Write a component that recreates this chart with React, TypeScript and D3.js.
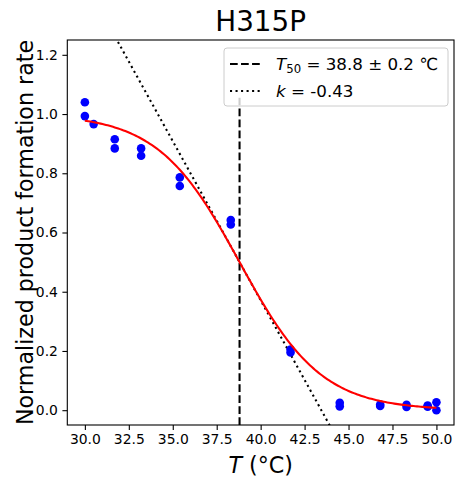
import { useEffect, useRef } from "react";
import * as d3 from "d3";

// measured temperatures (°C) and normalized rates, two replicates per well
const temps = [30.0, 30.0, 30.5, 31.7, 31.7, 33.2, 33.2, 35.4, 35.4, 38.3, 38.3, 41.7, 41.7, 44.5, 44.5, 46.8, 46.8, 48.3, 48.3, 49.5, 49.5, 50.0, 50.0];
const rates = [1.04, 0.993, 0.966, 0.915, 0.884, 0.884, 0.859, 0.786, 0.757, 0.642, 0.627, 0.205, 0.195, 0.025, 0.013, 0.019, 0.014, 0.018, 0.011, 0.016, 0.012, 0.027, 0.0];

// fitted logistic parameters
const T50 = 38.8;
const T50_ERR = 0.2;
const K = -0.43;

const xTicks = [30, 32.5, 35, 37.5, 40, 42.5, 45, 47.5, 50];
const yTicks = [0, 0.2, 0.4, 0.6, 0.8, 1.0, 1.2];

const W = 464;
const H = 487;
const FONT = "DejaVu Sans, sans-serif";

export default function App() {
  const svgRef = useRef<SVGSVGElement | null>(null);

  useEffect(() => {
    const svg = d3.select(svgRef.current);
    svg.selectAll("*").remove();

    const left = 67.3, right = 454, top = 40, bottom = 425;
    const x = d3.scaleLinear().domain([29, 51]).range([left, right]);
    const y = d3.scaleLinear().domain([-0.05, 1.25]).range([bottom, top]);

    svg.append("rect").attr("width", W).attr("height", H).attr("fill", "white");

    svg.append("defs").append("clipPath").attr("id", "plot")
      .append("rect").attr("x", left).attr("y", top)
      .attr("width", right - left).attr("height", bottom - top);

    const plot = svg.append("g").attr("clip-path", "url(#plot)");

    // tangent line at the midpoint, slope k/4
    const tangent = (t: number) => 0.5 + (K / 4) * (t - T50);
    plot.append("line")
      .attr("x1", x(29)).attr("y1", y(tangent(29)))
      .attr("x2", x(51)).attr("y2", y(tangent(51)))
      .attr("stroke", "black").attr("stroke-width", 2.08)
      .attr("stroke-dasharray", "2.08 3.44");

    // T50 marker
    plot.append("line")
      .attr("x1", x(T50)).attr("x2", x(T50))
      .attr("y1", y(-0.05)).attr("y2", y(1.055))
      .attr("stroke", "black").attr("stroke-width", 2.08)
      .attr("stroke-dasharray", "7.7 3.33");

    // data
    plot.append("g").selectAll("circle")
      .data(temps.map((t, i) => [t, rates[i]]))
      .join("circle")
      .attr("cx", (d) => x(d[0]))
      .attr("cy", (d) => y(d[1]))
      .attr("r", 4.3)
      .attr("fill", "blue");

    // fitted sigmoid
    const fit = d3.range(0, 201).map((i) => {
      const t = 30 + (i / 200) * 20;
      return [t, 1 / (1 + Math.exp(-K * (t - T50)))] as [number, number];
    });
    plot.append("path")
      .attr("d", d3.line().x((d) => x(d[0])).y((d) => y(d[1]))(fit))
      .attr("fill", "none").attr("stroke", "red").attr("stroke-width", 2.08);

    // axes
    const xa = svg.append("g").attr("transform", `translate(0,${bottom})`)
      .call(d3.axisBottom(x).tickValues(xTicks).tickSize(4.9).tickPadding(4.5).tickFormat(d3.format(".1f")));
    const ya = svg.append("g").attr("transform", `translate(${left},0)`)
      .call(d3.axisLeft(y).tickValues(yTicks).tickSize(4.9).tickPadding(4.5).tickFormat(d3.format(".1f")));
    for (const a of [xa, ya]) {
      a.select(".domain").remove();
      a.selectAll("line").attr("stroke", "black").attr("stroke-width", 1.1);
      a.selectAll("text").attr("font-family", FONT).attr("font-size", 13.9).attr("fill", "black");
    }

    svg.append("rect")
      .attr("x", left).attr("y", top)
      .attr("width", right - left).attr("height", bottom - top)
      .attr("fill", "none").attr("stroke", "black").attr("stroke-width", 1.1);

    // labels
    svg.append("text").attr("x", (left + right) / 2).attr("y", 31)
      .attr("text-anchor", "middle").attr("font-family", FONT).attr("font-size", 27.8)
      .text("H315P");

    const xl = svg.append("text").attr("x", (left + right) / 2).attr("y", 473)
      .attr("text-anchor", "middle").attr("font-family", FONT).attr("font-size", 22.2);
    xl.append("tspan").attr("font-style", "italic").text("T");
    xl.append("tspan").text(" (°C)");

    svg.append("text")
      .attr("transform", `translate(25,${(top + bottom) / 2}) rotate(-90)`)
      .attr("text-anchor", "middle").attr("dominant-baseline", "central")
      .attr("font-family", FONT).attr("font-size", 22.2)
      .text("Normalized product formation rate");

    // legend
    const lg = svg.append("g");
    lg.append("rect").attr("x", 224).attr("y", 48).attr("width", 224).attr("height", 58)
      .attr("rx", 3).attr("fill", "white").attr("fill-opacity", 0.8)
      .attr("stroke", "#cccccc").attr("stroke-width", 1);
    lg.append("line").attr("x1", 230).attr("x2", 262).attr("y1", 64).attr("y2", 64)
      .attr("stroke", "black").attr("stroke-width", 2.08).attr("stroke-dasharray", "7.7 3.33");
    lg.append("line").attr("x1", 230).attr("x2", 262).attr("y1", 91).attr("y2", 91)
      .attr("stroke", "black").attr("stroke-width", 2.08).attr("stroke-dasharray", "2.08 3.44");

    const t1 = lg.append("text").attr("x", 276).attr("y", 70)
      .attr("font-family", FONT).attr("font-size", 16.7);
    t1.append("tspan").attr("font-style", "italic").text("T");
    t1.append("tspan").attr("font-size", 11.7).attr("dy", 3).text("50");
    t1.append("tspan").attr("dy", -3).text(` = ${T50} ± ${T50_ERR} ℃`);

    const t2 = lg.append("text").attr("x", 276).attr("y", 97)
      .attr("font-family", FONT).attr("font-size", 16.7);
    t2.append("tspan").attr("font-style", "italic").text("k");
    t2.append("tspan").text(` = ${K}`);
  }, []);

  return (
    <svg ref={svgRef} width={W} height={H}
      style={{ position: "absolute", left: 0, top: 0 }} />
  );
}
